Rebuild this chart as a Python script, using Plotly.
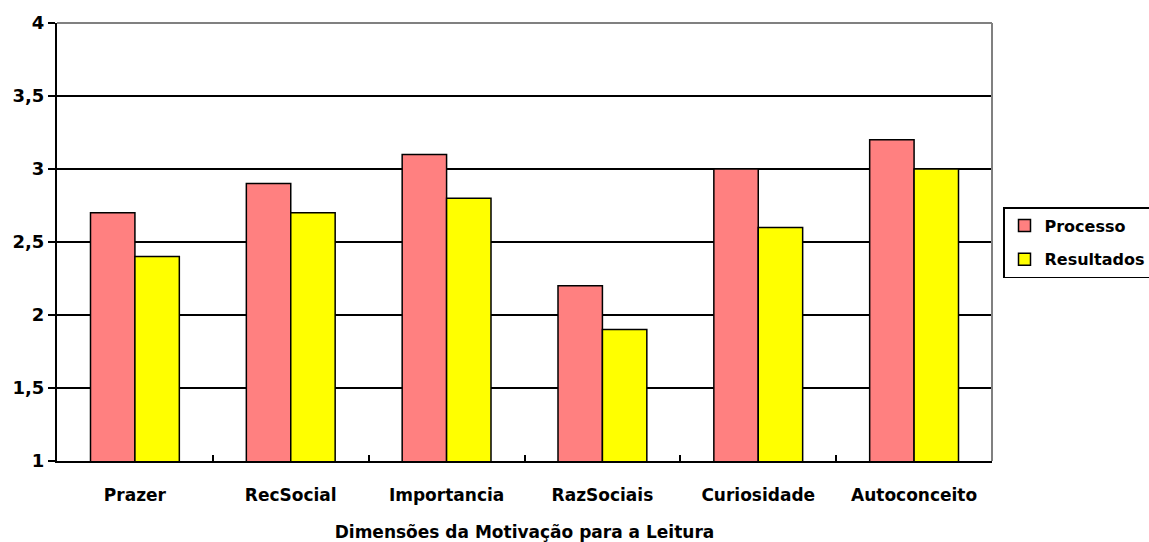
import plotly.graph_objects as go

categories = ["Prazer", "RecSocial", "Importancia", "RazSociais", "Curiosidade", "Autoconceito"]
processo = [2.7, 2.9, 3.1, 2.2, 3.0, 3.2]
resultados = [2.4, 2.7, 2.8, 1.9, 2.6, 3.0]
y_ticks = [1, 1.5, 2, 2.5, 3, 3.5, 4]
y_labels = ["1", "1,5", "2", "2,5", "3", "3,5", "4"]

FONT = "Tahoma, DejaVu Sans, Verdana, sans-serif"

fig = go.Figure()
fig.add_trace(go.Bar(name="Processo", x=categories, y=processo, legendgroup="a",
                     marker=dict(color="#FF8080", line=dict(color="black", width=1.5))))
fig.add_trace(go.Bar(name="Resultados", x=categories, y=resultados, legendgroup="b",
                     marker=dict(color="#FFFF00", line=dict(color="black", width=1.5))))

fig.update_layout(
    width=1149, height=542,
    margin=dict(l=57, r=157, t=23, b=81, autoexpand=False),
    paper_bgcolor="white", plot_bgcolor="white",
    barmode="group", bargap=0.43, bargroupgap=0,
    font=dict(family=FONT, color="black"),
    legend=dict(xref="container", yref="container",
                x=1003 / 1149, y=1 - 207 / 542, xanchor="left", yanchor="top",
                bordercolor="black", borderwidth=1.5,
                font=dict(size=16, weight="bold"),
                itemwidth=30, traceorder="grouped", tracegroupgap=10),
    xaxis=dict(showgrid=False, showline=True, linecolor="black", linewidth=2,
               ticks="inside", tickson="boundaries", ticklen=6, tickcolor="black",
               tickwidth=2, tickfont=dict(size=17, weight="bold"),
               ticklabelstandoff=18,
               title=dict(text="Dimensões da Motivação para a Leitura",
                          font=dict(size=17, weight="bold"), standoff=23)),
    yaxis=dict(range=[1, 4], tickvals=y_ticks, ticktext=y_labels,
               showgrid=True, gridcolor="black", gridwidth=1.5,
               showline=True, linecolor="black", linewidth=2,
               ticks="outside", ticklen=7, tickcolor="black", tickwidth=2,
               tickfont=dict(size=18, weight="bold"), zeroline=False),
    shapes=[
        dict(type="line", xref="paper", yref="paper", x0=0, x1=1, y0=1, y1=1,
             line=dict(color="#808080", width=2)),
        dict(type="line", xref="paper", yref="paper", x0=1, x1=1, y0=0, y1=1,
             line=dict(color="#808080", width=2)),
    ],
)

fig.write_html("out.html")
